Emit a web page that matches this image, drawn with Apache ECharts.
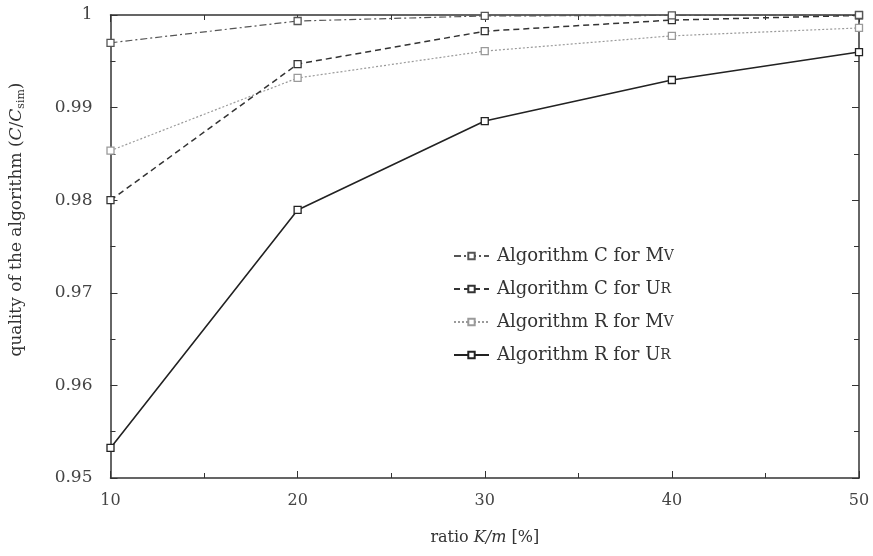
<!DOCTYPE html>
<html>
<head>
<meta charset="utf-8">
<script src="https://cdn.jsdelivr.net/npm/echarts@6/dist/echarts.min.js"></script>
<style>html,body{margin:0;padding:0;background:#fff}#c{width:873px;height:556px}</style>
</head>
<body>
<div id="c"></div>
<script>
const xValues = [10, 20, 30, 40, 50];
const seriesNames = ['Algorithm C for Mv', 'Algorithm C for Ur', 'Algorithm R for Mv', 'Algorithm R for Ur'];
const algCMv = [0.9970, 0.99935, 0.9999, 0.99995, 1.0000];
const algCUr = [0.9800, 0.9947, 0.99825, 0.99945, 0.99995];
const algRMv = [0.98535, 0.9932, 0.9961, 0.99775, 0.9986];
const algRUr = [0.95325, 0.97895, 0.98855, 0.99298, 0.9960];
const yTicks = [0.95, 0.96, 0.97, 0.98, 0.99, 1];

const serif = '"DejaVu Serif", "Liberation Serif", serif';
const legendLabels = {
  'Algorithm C for Mv': 'Algorithm C for M{sc|V}',
  'Algorithm C for Ur': 'Algorithm C for U{sc|R}',
  'Algorithm R for Mv': 'Algorithm R for M{sc|V}',
  'Algorithm R for Ur': 'Algorithm R for U{sc|R}'
};
const styles = [
  {color: '#555', type: [7, 3, 2, 3], width: 1.2},
  {color: '#333', type: [6, 4], width: 1.5},
  {color: '#9a9a9a', type: [2, 2], width: 1.2},
  {color: '#222', type: 'solid', width: 1.6}
];
const datas = [algCMv, algCUr, algRMv, algRUr];

const chart = echarts.init(document.getElementById('c'));
const axisCommon = {
  axisLine: {show: true, lineStyle: {color: '#333', width: 1.5}},
  axisTick: {show: true, inside: true, length: 7, lineStyle: {color: '#333'}},
  minorTick: {show: true, splitNumber: 2, length: 5, lineStyle: {color: '#333'}},
  splitLine: {show: false}
};
chart.setOption({
  animation: false,
  backgroundColor: '#fff',
  grid: {left: 110, right: 14, top: 15, bottom: 78},
  legend: {
    orient: 'vertical', left: 448, top: 242,
    itemWidth: 35, itemHeight: 8, itemGap: 15,
    data: seriesNames,
    formatter: n => legendLabels[n],
    textStyle: {fontFamily: serif, fontSize: 18, color: '#333', padding: [0, 0, 0, 3],
      rich: {sc: {fontFamily: serif, fontSize: 14, color: '#333'}}}
  },
  xAxis: [
    Object.assign({type: 'value', min: 10, max: 50, interval: 10, position: 'bottom',
      name: '{n|ratio }{i|K/m}{n| [%]}', nameLocation: 'middle', nameGap: 52,
      nameTextStyle: {rich: {
        n: {fontFamily: serif, fontSize: 16, color: '#333'},
        i: {fontFamily: serif, fontSize: 16, fontStyle: 'italic', color: '#333'}}},
      axisLabel: {fontFamily: serif, fontSize: 16, color: '#444', margin: 15}}, axisCommon),
    Object.assign({type: 'value', min: 10, max: 50, interval: 10, position: 'top',
      axisLabel: {show: false}}, axisCommon)
  ],
  yAxis: [
    Object.assign({type: 'value', min: 0.95, max: 1, interval: 0.01, position: 'left',
      name: '{n|quality of the algorithm (}{i|C}{n|/}{i|C}{s|sim}{n|)}', nameLocation: 'middle', nameGap: 84,
      nameTextStyle: {padding: [0, 0, 0, 54], rich: {
        n: {fontFamily: serif, fontSize: 17, color: '#333'},
        i: {fontFamily: serif, fontSize: 17, fontStyle: 'italic', color: '#333'},
        s: {fontFamily: serif, fontSize: 11, color: '#333', verticalAlign: 'bottom', padding: [9, 0, 0, 0]}}},
      axisLabel: {fontFamily: serif, fontSize: 17, color: '#444', margin: 18,
        formatter: v => String(+v.toFixed(3))}}, axisCommon),
    Object.assign({type: 'value', min: 0.95, max: 1, interval: 0.01, position: 'right',
      axisLabel: {show: false}}, axisCommon)
  ],
  series: seriesNames.map((n, k) => ({
    name: n, type: 'line',
    data: xValues.map((x, i) => [x, datas[k][i]]),
    symbol: 'rect', symbolSize: 7, showSymbol: true,
    z: 10 - k,
    lineStyle: {color: styles[k].color, type: styles[k].type, width: styles[k].width},
    itemStyle: {color: '#fff', borderColor: styles[k].color, borderWidth: 1.3}
  }))
});
</script>
</body>
</html>
